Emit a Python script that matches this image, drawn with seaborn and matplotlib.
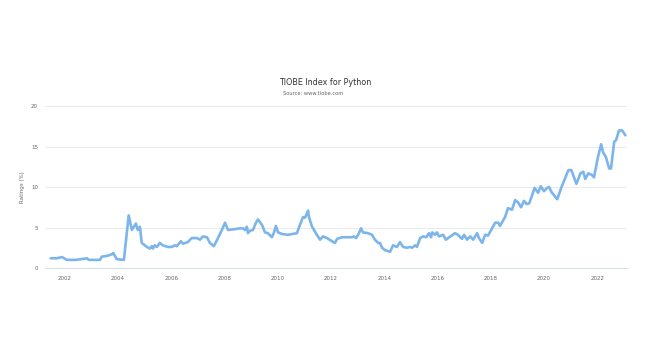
import seaborn as sns
import pandas as pd
import matplotlib.pyplot as plt

#-----------------------------------------------------------------------------------------------------------------------
"""Data read off the TIOBE chart"""
years = [2001.47, 2001.70, 2001.89, 2002.08, 2002.40, 2002.64, 2002.83, 2002.90, 2003.32, 2003.39,
         2003.60, 2003.77, 2003.82, 2003.95, 2004.22, 2004.40, 2004.52, 2004.67, 2004.74, 2004.82,
         2004.89, 2005.08, 2005.20, 2005.27, 2005.31, 2005.38, 2005.46, 2005.57, 2005.68, 2005.87,
         2006.02, 2006.14, 2006.21, 2006.36, 2006.44, 2006.62, 2006.77, 2006.96, 2007.08, 2007.19,
         2007.34, 2007.45, 2007.60, 2007.71, 2007.90, 2008.02, 2008.13, 2008.39, 2008.58, 2008.69,
         2008.77, 2008.84, 2008.88, 2008.95, 2009.07, 2009.18, 2009.26, 2009.41, 2009.52, 2009.63,
         2009.78, 2009.86, 2009.93, 2010.01, 2010.16, 2010.38, 2010.72, 2010.83, 2010.95, 2011.02,
         2011.14, 2011.17, 2011.29, 2011.47, 2011.59, 2011.70, 2011.85, 2012.04, 2012.15, 2012.23,
         2012.41, 2012.60, 2012.79, 2012.86, 2012.94, 2013.02, 2013.13, 2013.20, 2013.39, 2013.54,
         2013.65, 2013.77, 2013.84, 2013.92, 2014.03, 2014.22, 2014.33, 2014.48, 2014.59, 2014.71,
         2014.86, 2014.97, 2015.05, 2015.16, 2015.23, 2015.35, 2015.46, 2015.58, 2015.68, 2015.76,
         2015.80, 2015.91, 2015.98, 2016.06, 2016.21, 2016.32, 2016.44, 2016.66, 2016.77, 2016.92,
         2017.00, 2017.11, 2017.23, 2017.34, 2017.49, 2017.56, 2017.68, 2017.79, 2017.90, 2018.05,
         2018.17, 2018.28, 2018.35, 2018.54, 2018.65, 2018.80, 2018.92, 2019.03, 2019.14, 2019.25,
         2019.35, 2019.45, 2019.65, 2019.78, 2019.88, 2020.00, 2020.12, 2020.20, 2020.28, 2020.50,
         2020.66, 2020.92, 2021.03, 2021.22, 2021.37, 2021.48, 2021.55, 2021.67, 2021.80, 2021.88,
         2022.03, 2022.15, 2022.22, 2022.33, 2022.45, 2022.52, 2022.64, 2022.71, 2022.82, 2022.94,
         2023.06]

ratings = [1.2, 1.2, 1.35, 1.0, 1.0, 1.1, 1.2, 1.0, 1.0, 1.4,
           1.5, 1.7, 1.85, 1.1, 1.0, 6.5, 4.7, 5.5, 4.7, 5.1,
           3.1, 2.6, 2.4, 2.7, 2.4, 2.8, 2.6, 3.1, 2.8, 2.6,
           2.6, 2.8, 2.7, 3.3, 3.0, 3.2, 3.7, 3.7, 3.5, 3.9,
           3.8, 3.1, 2.7, 3.4, 4.7, 5.6, 4.7, 4.8, 4.9, 4.9,
           4.7, 5.1, 4.3, 4.6, 4.7, 5.6, 6.0, 5.3, 4.4, 4.3,
           3.8, 4.4, 5.2, 4.4, 4.2, 4.1, 4.3, 5.3, 6.3, 6.2,
           7.1, 6.3, 5.1, 4.1, 3.5, 3.9, 3.7, 3.3, 3.1, 3.6,
           3.8, 3.8, 3.8, 3.9, 3.7, 4.1, 4.9, 4.4, 4.3, 4.1,
           3.5, 3.1, 3.1, 2.5, 2.2, 2.0, 2.8, 2.6, 3.2, 2.6,
           2.5, 2.6, 2.5, 2.8, 2.6, 3.7, 3.9, 3.8, 4.3, 3.8,
           4.4, 4.1, 4.4, 3.9, 4.1, 3.5, 3.8, 4.3, 4.1, 3.6,
           4.1, 3.5, 3.9, 3.5, 4.3, 3.7, 3.1, 4.1, 4.0, 4.9,
           5.6, 5.6, 5.2, 6.3, 7.4, 7.2, 8.4, 8.1, 7.5, 8.3,
           7.9, 8.0, 9.9, 9.3, 10.1, 9.5, 9.9, 10.0, 9.4, 8.5,
           10.0, 12.1, 12.1, 10.4, 11.7, 11.9, 11.0, 11.7, 11.5, 11.2,
           13.7, 15.3, 14.3, 13.7, 12.3, 12.3, 15.6, 15.8, 17.0, 17.0,
           16.4]

year_ticks = [2002, 2004, 2006, 2008, 2010, 2012, 2014, 2016, 2018, 2020, 2022]
rating_ticks = [0, 5, 10, 15, 20]

df = pd.DataFrame({'year': years, 'rating': ratings})

#-----------------------------------------------------------------------------------------------------------------------
"""Figure"""
sns.set_style("white")
plt.rcParams['font.family'] = ['DejaVu Sans']

fig = plt.figure(figsize=(6.5, 3.54), dpi=100)
ax1 = fig.add_axes([0.069, 0.243, 0.896, 0.457])

#Line
sns.lineplot(data=df, x='year', y='rating', color='#7cb5ec', linewidth=1.9, ax=ax1)
for line in ax1.get_lines():
    line.set_solid_joinstyle('round')
    line.set_solid_capstyle('round')

#-----------------------------------------------------------------------------------------------------------------------
"""Title and Axes"""
fig.text(0.5, 0.768, "TIOBE Index for Python", ha='center', va='center', fontsize=5.8, color='#333333')
fig.text(0.436, 0.735, "Source: www.tiobe.com", ha='left', va='center', fontsize=3.7, color='#666666')

ax1.set_xlabel("")
ax1.set_ylabel("Ratings (%)", fontsize=4, color='#666666', labelpad=4)

#-----------------------------------------------------------------------------------------------------------------------
"""Making the graph look nice"""
ax1.set_xlim(2001.25, 2023.13)
ax1.set_ylim(0, 20)
ax1.set_xticks(year_ticks)
ax1.set_xticklabels([str(y) for y in year_ticks])
ax1.set_yticks(rating_ticks)

ax1.yaxis.grid(True, color='#e6e6e6', linewidth=0.6)
ax1.xaxis.grid(False)
ax1.set_axisbelow(True)

for side in ['top', 'right', 'left']:
    ax1.spines[side].set_visible(False)
ax1.spines['bottom'].set_color('#ccd6eb')
ax1.spines['bottom'].set_linewidth(0.6)

ax1.tick_params(axis='x', colors='#ccd6eb', length=4, width=0.6, labelsize=4, labelcolor='#666666', pad=2)
ax1.tick_params(axis='y', length=0, labelsize=4, labelcolor='#666666', pad=5)

fig.savefig('out.png', dpi=100, facecolor='white')
